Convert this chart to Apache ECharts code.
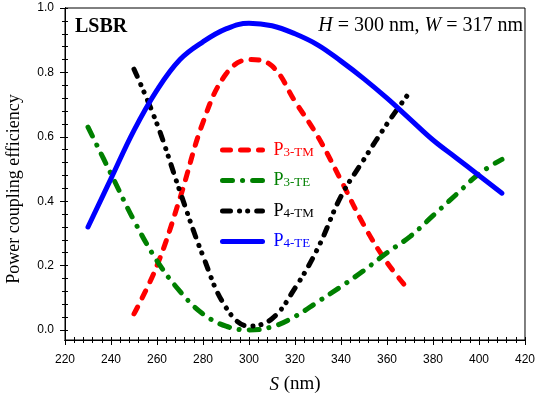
<!DOCTYPE html>
<html>
<head>
<meta charset="utf-8">
<script src="https://cdn.jsdelivr.net/npm/echarts@6/dist/echarts.min.js"></script>
<style>html,body{margin:0;padding:0;background:#fff}#c{width:538px;height:403px}</style>
</head>
<body>
<div id="c"></div>
<script>
// ---- data ----
var sP3TM = [250,260,270,280,290,300,310,320,330,340,350,360,370];
var vP3TM = [0.05,0.20,0.41,0.645,0.795,0.84,0.82,0.71,0.60,0.465,0.325,0.21,0.12];

var sP3TE = [230,240,250,260,270,280,290,300,310,320,330,340,350,360,370,380,390,400,410];
var vP3TE = [0.63,0.485,0.34,0.215,0.12,0.05,0.012,0.0,0.01,0.042,0.088,0.135,0.185,0.24,0.29,0.355,0.42,0.485,0.53];

var sP4TM = [250,260,270,280,290,300,310,320,330,340,350,360,370];
var vP4TM = [0.81,0.64,0.43,0.23,0.07,0.012,0.035,0.13,0.255,0.415,0.53,0.64,0.74];

var sP4TE = [230,240,250,260,270,280,290,300,310,320,330,340,350,360,370,380,390,400,410];
var vP4TE = [0.32,0.47,0.62,0.745,0.84,0.895,0.935,0.953,0.945,0.92,0.885,0.835,0.78,0.72,0.655,0.59,0.535,0.48,0.425];

var xMajorTicks = [220,240,260,280,300,320,340,360,380,400,420];
var xMinorTicks = [];
for (var i = 220; i <= 420; i += 4) xMinorTicks.push(i);
var yMajorTicks = [0,0.2,0.4,0.6,0.8,1.0];
var yMinorTicks = [];
for (var j = 0; j <= 25; j++) yMinorTicks.push(Math.round(j*0.04*100)/100);

var seriesNames = ['P3-TM','P3-TE','P4-TM','P4-TE'];
var seriesColors = ['#ff0000','#008000','#000000','#0000ff'];

function pairs(xs, ys){ return xs.map(function(x,k){return [x, ys[k]];}); }

var chart = echarts.init(document.getElementById('c'), null, {renderer:'canvas'});

var XMIN = 220, XMAX = 420, YMIN = -0.031, YMAX = 1.0;
var sansFont = 'Liberation Sans';
var serifFont = 'Liberation Serif';

function xAx(opts){
  return Object.assign({
    type:'value', min:XMIN, max:XMAX, position:'bottom', gridIndex:0,
    axisLine:{show:true, onZero:false, lineStyle:{color:'#000', width:1}},
    splitLine:{show:false},
    axisLabel:{show:false},
    axisTick:{show:false}
  }, opts);
}
function yAx(opts){
  return Object.assign({
    type:'value', min:YMIN, max:YMAX, position:'left', offset:0, gridIndex:0,
    axisLine:{show:true, onZero:false, lineStyle:{color:'#000', width:1}},
    splitLine:{show:false},
    axisLabel:{show:false},
    axisTick:{show:false}
  }, opts);
}

var lineStyles = [
  {type:[8,10], cap:'round', width:5},
  {type:[10,10,0.1,10], cap:'round', width:5},
  {type:[8,9,0.1,8,0.1,9], cap:'round', width:5},
  {type:'solid', cap:'round', width:5}
];
var dataSets = [pairs(sP3TM,vP3TM), pairs(sP3TE,vP3TE), pairs(sP4TM,vP4TM), pairs(sP4TE,vP4TE)];

var series = seriesNames.map(function(n,k){
  return {
    name:n, type:'line', xAxisIndex:0, yAxisIndex:0,
    data:dataSets[k], smooth:0.4, symbol:'none', showSymbol:false,
    lineStyle:Object.assign({color:seriesColors[k]}, lineStyles[k]),
    itemStyle:{color:seriesColors[k]},
    z: 2 + k
  };
});

function legendRich(color){
  return {
    p:{fontFamily:serifFont, fontSize:18, lineHeight:18, color:color, verticalAlign:'top', padding:[0,0,0,6]},
    s:{fontFamily:serifFont, fontSize:13, lineHeight:13, color:color, verticalAlign:'bottom', padding:[10,0,0,0]}
  };
}

chart.setOption({
  animation:false,
  backgroundColor:'#fff',
  grid:{left:65, right:11, top:8, bottom:63, show:true, borderColor:'#000', borderWidth:1, backgroundColor:'transparent'},
  xAxis:[
    xAx({
      axisLabel:{show:true, customValues:xMajorTicks, fontFamily:sansFont, fontSize:12, color:'#000', margin:14},
      axisTick:{show:true, customValues:xMinorTicks, inside:false, length:3, lineStyle:{color:'#000'}},
      name:'{i|S}{n| (nm)}', nameLocation:'middle', nameGap:35,
      nameTextStyle:{rich:{
        i:{fontFamily:serifFont, fontStyle:'italic', fontSize:19, color:'#000'},
        n:{fontFamily:serifFont, fontSize:19, color:'#000'}
      }}
    }),
    xAx({axisTick:{show:true, customValues:xMinorTicks, inside:true, length:3, lineStyle:{color:'#000'}}}),
    xAx({axisTick:{show:true, customValues:xMajorTicks, inside:false, length:5, lineStyle:{color:'#000'}}})
  ],
  yAxis:[
    yAx({
      axisLabel:{show:true, customValues:yMajorTicks, fontFamily:sansFont, fontSize:12, color:'#000', margin:11,
        formatter:function(v){return v.toFixed(1);}},
      axisTick:{show:true, customValues:yMinorTicks, inside:false, length:3, lineStyle:{color:'#000'}}
    }),
    yAx({axisTick:{show:true, customValues:yMinorTicks, inside:true, length:3, lineStyle:{color:'#000'}}}),
    yAx({axisTick:{show:true, customValues:yMajorTicks, inside:false, length:5, lineStyle:{color:'#000'}}})
  ],
  legend:{
    show:true, orient:'vertical', left:215, top:131,
    itemWidth:40, itemHeight:14, itemGap:7.5,
    itemStyle:{opacity:0},
    lineStyle:{width:5, cap:'round'},
    data:seriesNames.map(function(n,k){
      return {
        name:n,
        itemStyle:{opacity:0},
        lineStyle:Object.assign({color:seriesColors[k]}, lineStyles[k]),
        textStyle:{rich:legendRich(seriesColors[k])}
      };
    }),
    formatter:function(name){
      return '{p|P}{s|' + name.substring(1) + '}';
    },
    selectedMode:false
  },
  graphic:[
    {type:'text', x:75, y:27, style:{text:'LSBR', font:'bold 20px "Liberation Serif"', fill:'#000', align:'left', verticalAlign:'middle'}},
    {type:'text', x:523, y:26, style:{
      text:'{i|H} = 300 nm, {i|W} = 317 nm',
      align:'right', verticalAlign:'middle', fill:'#000',
      font:'20px "Liberation Serif"',
      rich:{i:{fontStyle:'italic', fontFamily:serifFont, fontSize:20, fill:'#000'}}
    }},
    {type:'text', x:14, y:189, rotation:Math.PI/2, style:{
      text:'Power coupling efficiency', font:'18px "Liberation Serif"', fill:'#000', align:'center', verticalAlign:'middle'
    }}
  ],
  series:series
});
</script>
</body>
</html>
